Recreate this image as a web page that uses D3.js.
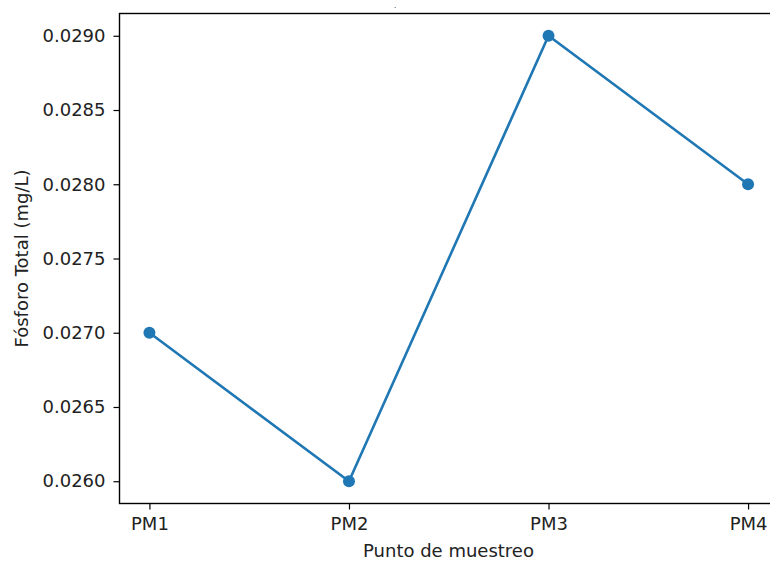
<!DOCTYPE html>
<html>
<head>
<meta charset="utf-8">
<script src="https://cdn.jsdelivr.net/npm/d3@7"></script>
<style>
  body { margin: 0; background: #fff; }
  svg, svg text { font-family: "DejaVu Sans", sans-serif; }
</style>
</head>
<body>
<svg id="chart"></svg>
<script>
let puntos = ["PM1", "PM2", "PM3", "PM4"]
let fosforo = [0.027, 0.026, 0.029, 0.028]
let yTicks = [0.0260, 0.0265, 0.0270, 0.0275, 0.0280, 0.0285, 0.0290]

let width = 770
let height = 561
let plotLeft = 119.5, plotRight = 778, plotTop = 13.5, plotBottom = 503.5
let fontPx = '18px'

let svg = d3.select('#chart').attr('width', width).attr('height', height)

// point scale with matplotlib-like 5% margins
let xScale = d3.scalePoint()
  .domain(puntos)
  .range([plotLeft, plotRight])
  .padding(0.15)

let yScale = d3.scaleLinear()
  .domain([0.02585, 0.02915])
  .range([plotBottom, plotTop])

let xAxis = d3.axisBottom(xScale).tickSize(6).tickPadding(8)
let yAxis = d3.axisLeft(yScale).tickValues(yTicks).tickSize(6).tickPadding(8)
  .tickFormat(d3.format('.4f'))

let gx = svg.append('g')
  .attr('transform', 'translate(0,' + plotBottom + ')')
  .call(xAxis)
gx.select('.domain').remove()

let gy = svg.append('g')
  .attr('transform', 'translate(' + plotLeft + ',0)')
  .call(yAxis)
gy.select('.domain').remove()

svg.selectAll('g').attr('font-family', null)
svg.selectAll('.tick line').attr('stroke', '#000').attr('stroke-width', 1.2)
svg.selectAll('.tick text').attr('fill', '#222').style('font-size', fontPx)

// spines
svg.append('rect')
  .attr('x', plotLeft).attr('y', plotTop)
  .attr('width', plotRight - plotLeft).attr('height', plotBottom - plotTop)
  .attr('fill', 'none').attr('stroke', '#000').attr('stroke-width', 1.4)

let line = d3.line()
  .x((d, i) => xScale(puntos[i]))
  .y(d => yScale(d))

svg.append('path')
  .datum(fosforo)
  .attr('d', line)
  .attr('fill', 'none')
  .attr('stroke', '#1f77b4')
  .attr('stroke-width', 2.6)

svg.selectAll('circle.pt')
  .data(fosforo)
  .enter()
  .append('circle')
  .attr('class', 'pt')
  .attr('cx', (d, i) => xScale(puntos[i]))
  .attr('cy', d => yScale(d))
  .attr('r', 6)
  .attr('fill', '#1f77b4')

svg.append('text')
  .attr('x', 448.5)
  .attr('y', 557)
  .attr('text-anchor', 'middle')
  .attr('fill', '#222')
  .style('font-size', fontPx)
  .text('Punto de muestreo')

svg.append('text')
  .attr('transform', 'translate(28,' + ((plotTop + plotBottom) / 2) + ') rotate(-90)')
  .attr('text-anchor', 'middle')
  .attr('fill', '#222')
  .style('font-size', fontPx)
  .text('Fósforo Total (mg/L)')

svg.append('text')
  .attr('x', 395)
  .attr('y', 7.5)
  .attr('text-anchor', 'middle')
  .style('font-size', '7px')
  .text('.')
</script>
</body>
</html>
